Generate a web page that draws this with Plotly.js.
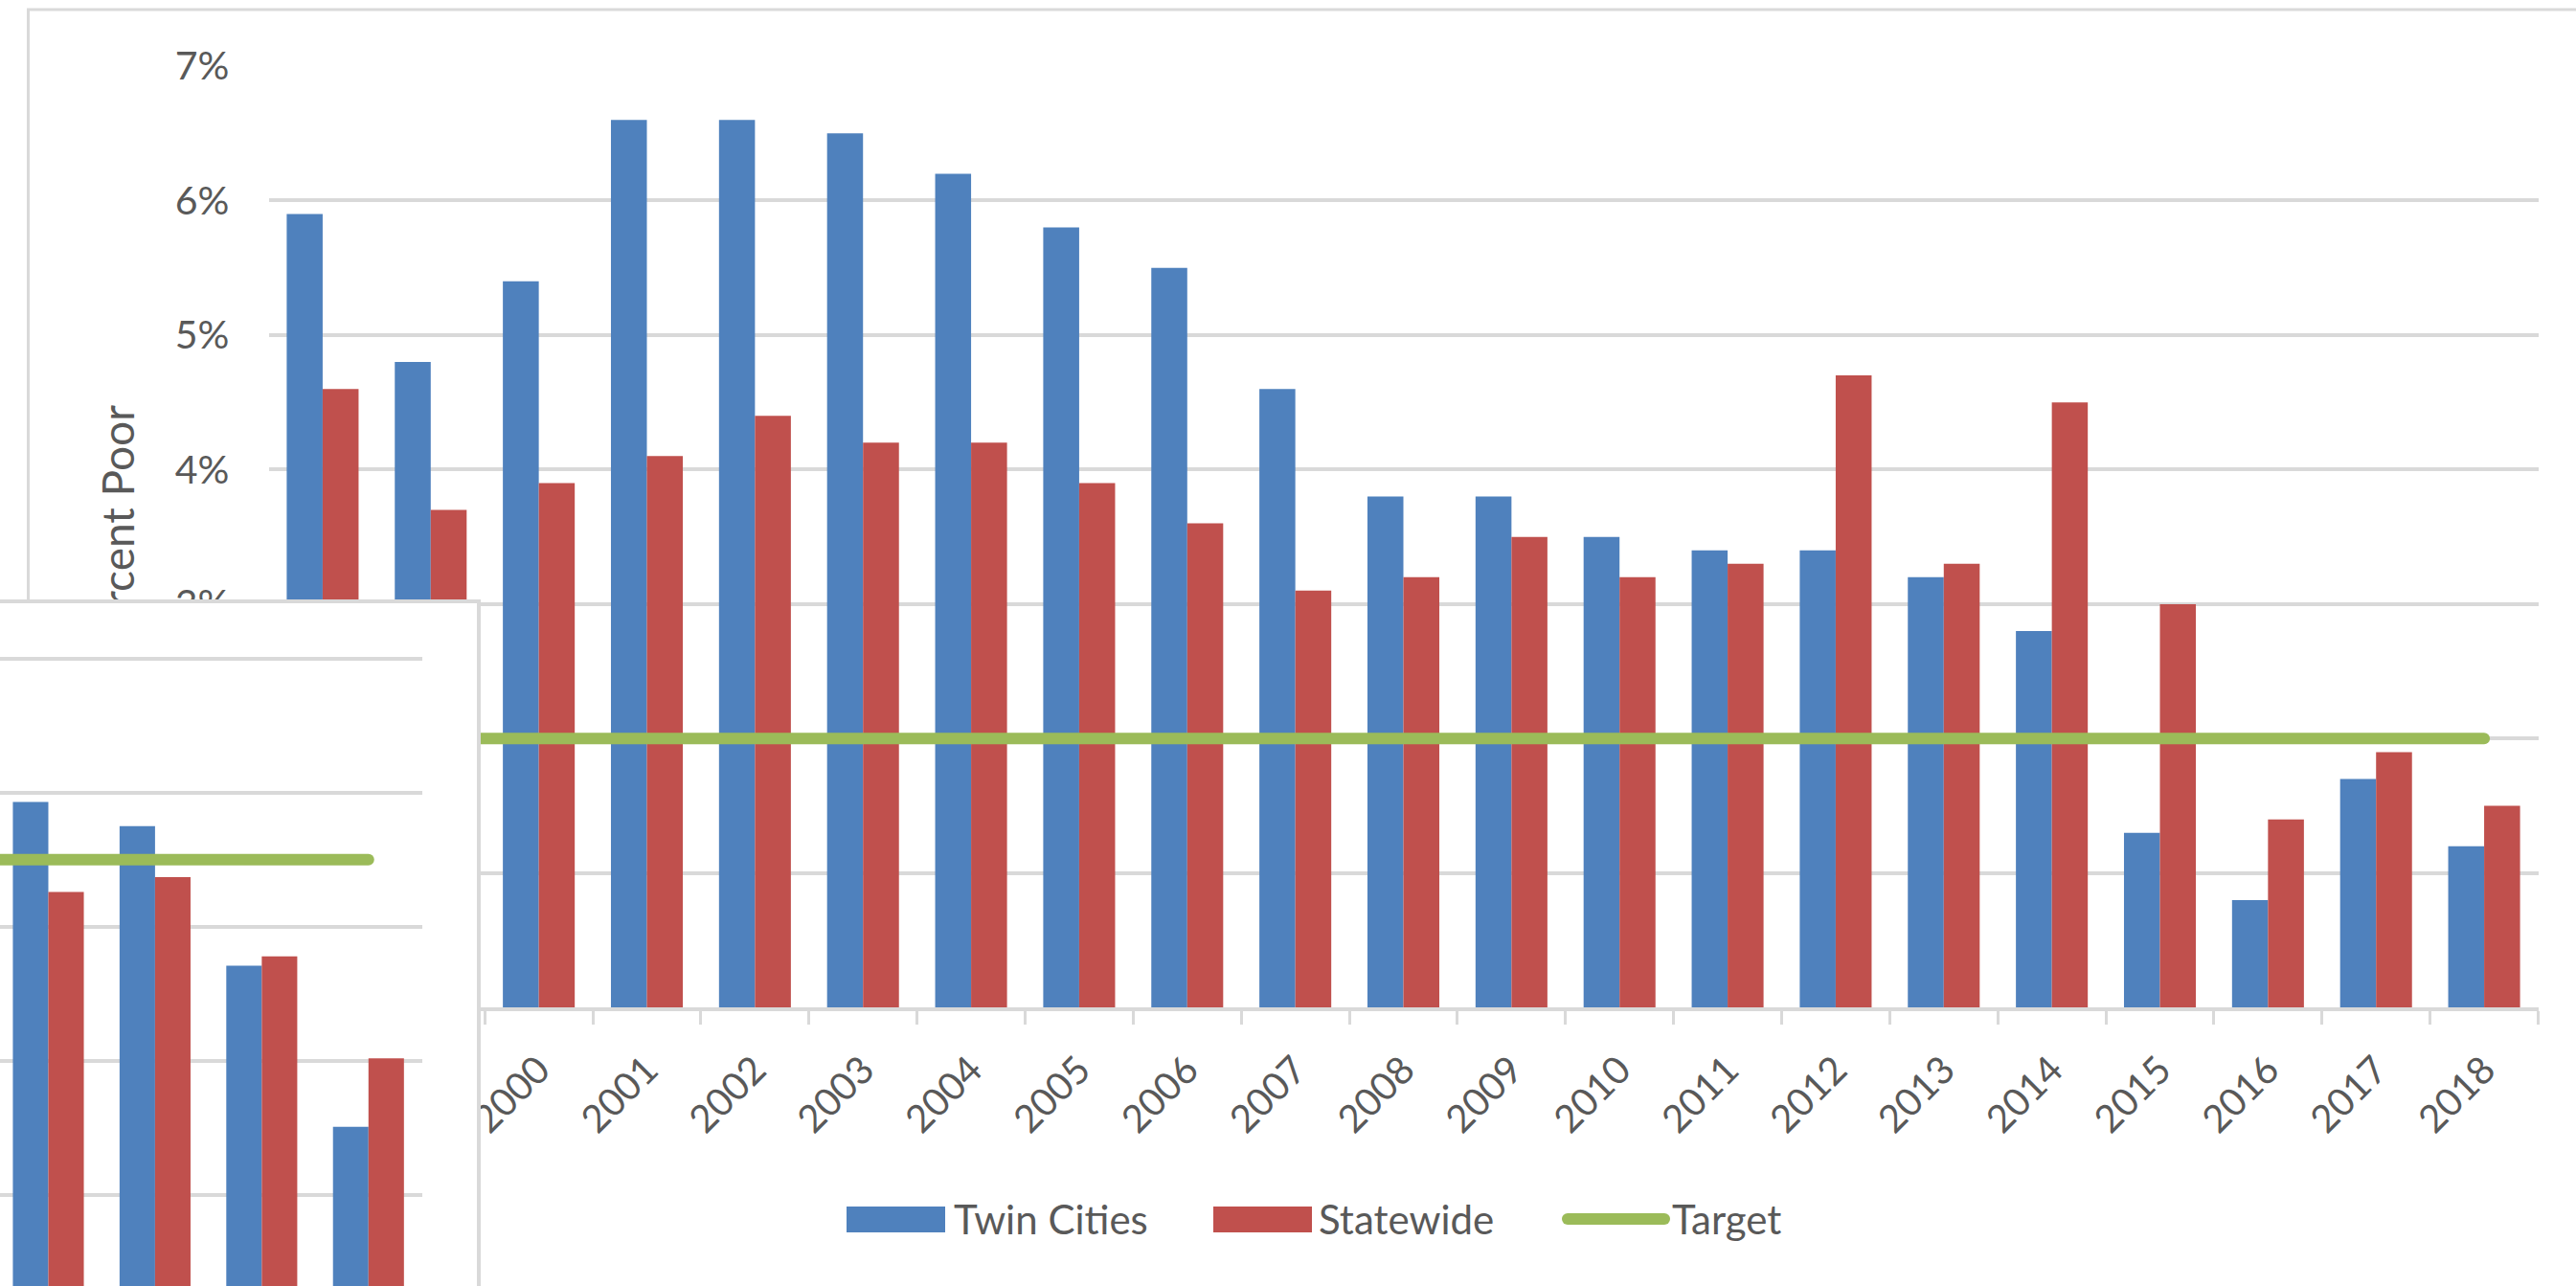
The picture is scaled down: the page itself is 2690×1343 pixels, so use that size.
<!DOCTYPE html>
<html>
<head>
<meta charset="utf-8">
<script src="https://cdn.plot.ly/plotly-3.0.1.min.js"></script>
<style>
  html, body { margin: 0; padding: 0; background: #fff; }
  #chart { width: 2690px; height: 1343px; }
  .js-line { stroke-linecap: round; }
  .shapelayer path { stroke-linecap: round; }
</style>
</head>
<body>
<div id="chart"></div>
<script>
// ---- data (main chart) ----
const years = ['1998','1999','2000','2001','2002','2003','2004','2005','2006','2007','2008',
               '2009','2010','2011','2012','2013','2014','2015','2016','2017','2018'];
const twinCities = [5.9, 4.8, 5.4, 6.6, 6.6, 6.5, 6.2, 5.8, 5.5, 4.6, 3.8,
                    3.8, 3.5, 3.4, 3.4, 3.2, 2.8, 1.3, 0.8, 1.7, 1.2];
const statewide  = [4.6, 3.7, 3.9, 4.1, 4.4, 4.2, 4.2, 3.9, 3.6, 3.1, 3.2,
                    3.5, 3.2, 3.3, 4.7, 3.3, 4.5, 3.0, 1.4, 1.9, 1.5];
const target     = [2, 2, 2, 2, 2, 2, 2, 2, 2, 2, 2,
                    2, 2, 2, 2, 2, 2, 2, 2, 2, 2];
const yTickVals  = [0, 1, 2, 3, 4, 5, 6, 7];
const yTickText  = ['0%', '1%', '2%', '3%', '4%', '5%', '6%', '7%'];
const yTitle     = 'Percent Poor';
const legendNames = ['Twin Cities', 'Statewide', 'Target'];

// ---- data (overlapping inset fragment, labels hidden) ----
const insetCats   = ['A', 'B', 'C', 'D', 'E'];
const insetTwin   = [null, 3.93, 3.75, 2.71, 1.51];
const insetState  = [null, 3.26, 3.37, 2.78, 2.02];
const insetTarget = [3.5, 3.5, 3.5, 3.5, 3.5];

// ---- styling ----
const W = 2690, H = 1343;
const PX = v => v / W;
const PY = v => 1 - v / H;
const BLUE = '#4F81BD', RED = '#C0504D', GREEN = '#9BBB59';
const GRID = '#D9D9D9', TXT = '#595959';
const FONT = 'Lato, "Open Sans", sans-serif';

const traces = [
  {type: 'bar', name: legendNames[0], x: years, y: twinCities, xaxis: 'x', yaxis: 'y',
   marker: {color: BLUE, line: {width: 0}}, showlegend: false, hoverinfo: 'x+y'},
  {type: 'bar', name: legendNames[1], x: years, y: statewide, xaxis: 'x', yaxis: 'y',
   marker: {color: RED, line: {width: 0}}, showlegend: false, hoverinfo: 'x+y'},
  {type: 'scatter', mode: 'lines', name: legendNames[2], x: years, y: target, xaxis: 'x', yaxis: 'y',
   line: {color: GREEN, width: 12}, showlegend: false, hoverinfo: 'x+y'},
  // title carrier axis (overlay, so it sits beneath the inset)
  {type: 'scatter', mode: 'lines', x: [], y: [], xaxis: 'x', yaxis: 'y4', showlegend: false, hoverinfo: 'skip'},
  // inset box
  {type: 'scatter', mode: 'lines', x: [], y: [], xaxis: 'x2', yaxis: 'y2', showlegend: false, hoverinfo: 'skip'},
  // inset chart
  {type: 'bar', x: insetCats, y: insetTwin, xaxis: 'x3', yaxis: 'y3',
   marker: {color: BLUE, line: {width: 0}}, showlegend: false, hoverinfo: 'skip'},
  {type: 'bar', x: insetCats, y: insetState, xaxis: 'x3', yaxis: 'y3',
   marker: {color: RED, line: {width: 0}}, showlegend: false, hoverinfo: 'skip'},
  {type: 'scatter', mode: 'lines', x: insetCats, y: insetTarget, xaxis: 'x3', yaxis: 'y3',
   line: {color: GREEN, width: 12}, showlegend: false, hoverinfo: 'skip'}
];

const layout = {
  width: W, height: H,
  margin: {l: 0, r: 0, t: 0, b: 0, pad: 0},
  paper_bgcolor: '#ffffff', plot_bgcolor: '#ffffff',
  font: {family: FONT, color: TXT, size: 40},
  showlegend: false,
  barmode: 'group', bargap: 0.335, bargroupgap: 0,
  xaxis: {
    domain: [PX(280.5), PX(2650.5)], anchor: 'y', type: 'category',
    range: [-0.5, 20.5], tickson: 'boundaries',
    ticks: 'outside', ticklen: 14, tickwidth: 3, tickcolor: GRID,
    showline: true, linecolor: GRID, linewidth: 3.5,
    showgrid: false, zeroline: false,
    tickangle: -45, tickfont: {family: FONT, size: 40, color: TXT},
    ticklabelstandoff: 22, fixedrange: true
  },
  yaxis: {
    domain: [PY(1052.3), PY(69)], anchor: 'x',
    range: [0, 7], tickvals: yTickVals, ticktext: yTickText,
    showgrid: true, gridcolor: GRID, gridwidth: 4,
    zeroline: false, showline: false, ticks: '',
    tickfont: {family: FONT, size: 41, color: TXT},
    ticklabelstandoff: 40, fixedrange: true
  },
  yaxis4: {
    overlaying: 'y', anchor: 'free', position: PX(149), side: 'left',
    range: [0, 7], tickvals: [3.5], ticktext: [yTitle], tickangle: -90,
    showgrid: false, zeroline: false, showline: false, ticks: '',
    tickfont: {family: FONT, size: 46, color: TXT}, fixedrange: true
  },
  xaxis2: {
    domain: [0, PX(498)], anchor: 'y2', side: 'top', range: [0, 1],
    showline: true, linecolor: GRID, linewidth: 4,
    showgrid: false, zeroline: false, showticklabels: false, ticks: '', fixedrange: true
  },
  yaxis2: {
    domain: [0, PY(629.5)], anchor: 'x2', side: 'right', range: [0, 1],
    showline: true, linecolor: GRID, linewidth: 4,
    showgrid: false, zeroline: false, showticklabels: false, ticks: '', fixedrange: true
  },
  xaxis3: {
    domain: [0, PX(440.5)], anchor: 'y3', type: 'category',
    range: [0.547, 4.5],
    showline: false, showgrid: false, zeroline: false, showticklabels: false, ticks: '', fixedrange: true
  },
  yaxis3: {
    domain: [0, PY(650)], anchor: 'x3',
    range: [(1388.5 - 1343) / 140.2, (1388.5 - 650) / 140.2], dtick: 1, tick0: 0,
    showgrid: true, gridcolor: GRID, gridwidth: 4,
    zeroline: false, showline: false, showticklabels: false, ticks: '', fixedrange: true
  },
  shapes: [
    // outer chart border
    {type: 'rect', xref: 'paper', yref: 'paper', layer: 'below',
     x0: PX(29.5), x1: PX(2720), y0: PY(1400), y1: PY(10),
     line: {color: GRID, width: 3}, fillcolor: 'rgba(0,0,0,0)'},
    // legend swatches
    {type: 'rect', xref: 'paper', yref: 'paper', x0: PX(884), x1: PX(987), y0: PY(1287), y1: PY(1260),
     fillcolor: BLUE, line: {width: 0}},
    {type: 'rect', xref: 'paper', yref: 'paper', x0: PX(1267), x1: PX(1370), y0: PY(1287), y1: PY(1260),
     fillcolor: RED, line: {width: 0}},
    {type: 'line', xref: 'paper', yref: 'paper', x0: PX(1637), x1: PX(1738), y0: PY(1273), y1: PY(1273),
     line: {color: GREEN, width: 12}}
  ],
  annotations: [
    {xref: 'paper', yref: 'paper', x: PX(994), y: PY(1273), xanchor: 'left', yanchor: 'middle',
     text: legendNames[0], showarrow: false, font: {family: FONT, size: 42, color: TXT}},
    {xref: 'paper', yref: 'paper', x: PX(1375), y: PY(1273), xanchor: 'left', yanchor: 'middle',
     text: legendNames[1], showarrow: false, font: {family: FONT, size: 42, color: TXT}},
    {xref: 'paper', yref: 'paper', x: PX(1744), y: PY(1273), xanchor: 'left', yanchor: 'middle',
     text: legendNames[2], showarrow: false, font: {family: FONT, size: 42, color: TXT}}
  ]
};

Plotly.newPlot('chart', traces, layout, {staticPlot: true, displayModeBar: false});
</script>
</body>
</html>
